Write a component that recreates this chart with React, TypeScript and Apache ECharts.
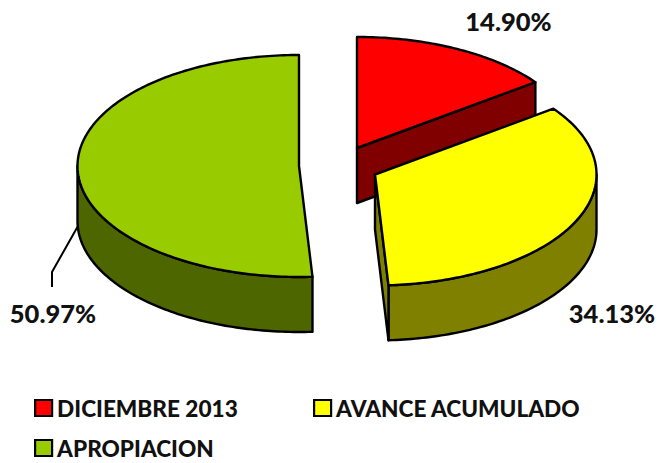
import React, { useEffect, useRef } from "react";
import * as echarts from "echarts";

const categories = ["DICIEMBRE 2013", "AVANCE ACUMULADO", "APROPIACION"];
const shares = [14.9, 34.13, 50.97];
const percentLabels = ["14.90%", "34.13%", "50.97%"];

const topColors = ["#FF0000", "#FFFF00", "#99CC00"];
const sideColors = ["#800000", "#808000", "#4D6600"];
const apexes = [[357, 148], [375, 174.5], [299, 166]];
const labelCentres = [[508.5, 21], [612, 313], [53, 313]];
const legendBoxes = [[34, 396.5], [313, 396.5], [34, 436.5]];
const drawOrder = [2, 0, 1];

const RX = 221.5;
const RY = 111;
const DEPTH = 55;
const LINE = 2.4;
const FONT = "Lato";

const total = shares.reduce((a, b) => a + b, 0);
const startAngle = (i: number) =>
  (shares.slice(0, i).reduce((a, b) => a + b, 0) / total) * 360;

const rim = (c: number[], deg: number, drop = 0) => {
  const t = (deg * Math.PI) / 180;
  return [c[0] + RX * Math.sin(t), c[1] - RY * Math.cos(t) + drop];
};
const arc = (c: number[], from: number, to: number, drop = 0) => {
  const pts: number[][] = [];
  const n = Math.max(2, Math.ceil(Math.abs(to - from)));
  for (let k = 0; k <= n; k++) pts.push(rim(c, from + ((to - from) * k) / n, drop));
  return pts;
};

function renderSlice(index: number) {
  return (_params: any, api: any) => {
    const sweep = (api.value(0) / total) * 360;
    const from = startAngle(index);
    const to = from + sweep;
    const c = apexes[index];
    const children: any[] = [];
    const poly = (points: number[][], fill: string) => ({
      type: "polygon",
      shape: { points },
      style: { fill, stroke: "#000", lineWidth: LINE, lineJoin: "round" },
    });

    // outer wall: only the part of the rim that faces the viewer (90..270 deg)
    const wallFrom = Math.max(from, 90);
    const wallTo = Math.min(to, 270);
    if (wallTo > wallFrom) {
      children.push(
        poly(
          [...arc(c, wallFrom, wallTo), ...arc(c, wallTo, wallFrom, DEPTH)],
          sideColors[index]
        )
      );
    }
    // cut face that looks towards the viewer
    if (to < 180) {
      const r = rim(c, to);
      children.push(
        poly(
          [c, r, [r[0], r[1] + DEPTH], [c[0], c[1] + DEPTH]],
          sideColors[index]
        )
      );
    }
    // top face
    children.push(poly([c, ...arc(c, from, to)], topColors[index]));

    // leader line for the big slice
    if (index === 2) {
      children.push({
        type: "polyline",
        shape: { points: [[78, 226], [52, 272], [52, 287]] },
        style: { fill: "none", stroke: "#000", lineWidth: 2 },
      });
    }
    children.push({
      type: "text",
      style: {
        text: percentLabels[index],
        x: labelCentres[index][0],
        y: labelCentres[index][1],
        align: "center",
        verticalAlign: "middle",
        textAlign: "center",
        textVerticalAlign: "middle",
        fontFamily: FONT,
        fontWeight: 900,
        fontSize: 25.5,
        fill: "#111",
      },
    });
    return { type: "group", children };
  };
}

export default function App() {
  const ref = useRef<HTMLDivElement>(null);
  useEffect(() => {
    const chart = echarts.init(ref.current!, undefined, { renderer: "svg" });
    chart.setOption({
      animation: false,
      backgroundColor: "#fff",
      legend: categories.map((name, i) => ({
        show: true,
        data: [name],
        left: legendBoxes[i][0],
        top: legendBoxes[i][1],
        padding: 0,
        itemWidth: 17,
        itemHeight: 16,
        icon: "rect",
        selectedMode: false,
        itemStyle: { borderColor: "#000", borderWidth: 2.2 },
        textStyle: {
          fontFamily: FONT,
          fontWeight: 900,
          fontSize: 22.6,
          color: "#111",
        },
      })),
      series: drawOrder.map((i) => ({
        type: "custom",
        name: categories[i],
        coordinateSystem: "none",
        itemStyle: { color: topColors[i] },
        renderItem: renderSlice(i),
        data: [[shares[i]]],
        silent: true,
      })),
    });
    return () => chart.dispose();
  }, []);
  return (
    <div
      ref={ref}
      style={{ position: "fixed", left: 0, top: 0, width: 660, height: 463 }}
    />
  );
}
